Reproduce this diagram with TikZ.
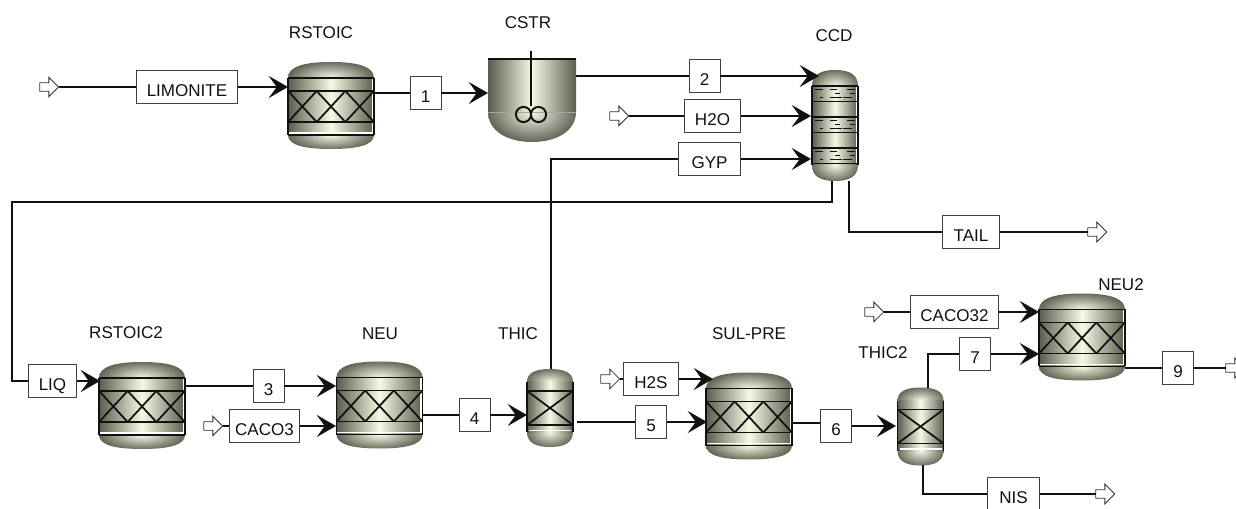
\documentclass[tikz,border=0pt]{standalone}
\usepackage{fontspec}
\setmainfont{Liberation Sans}
\usepackage{tikz}
\usetikzlibrary{arrows.meta,shapes.arrows}
\definecolor{shelldark}{HTML}{5C5C4E}
\definecolor{shelllight}{HTML}{F8F8E6}
\definecolor{ink}{HTML}{111111}
\def\px{0.5669pt}

% vessel shell: half width, dome top, body top, body bottom, dome bottom
\newcommand{\vesselshell}[5]{
  \begin{scope}
    \clip (-#1,#3) .. controls (-#1,{#3+0.72*(#2-#3)}) and ({-0.62*#1},#2) .. (0,#2)
          .. controls ({0.62*#1},#2) and (#1,{#3+0.72*(#2-#3)}) .. (#1,#3) -- cycle;
    \shade[inner color=shelllight, outer color=shelldark] (0,#3) ellipse [x radius=#1+3, y radius=#3-#2+2];
  \end{scope}
  \begin{scope}
    \clip (-#1,#4) .. controls (-#1,{#4+0.72*(#5-#4)}) and ({-0.62*#1},#5) .. (0,#5)
          .. controls ({0.62*#1},#5) and (#1,{#4+0.72*(#5-#4)}) .. (#1,#4) -- cycle;
    \shade[inner color=shelllight, outer color=shelldark] (0,#4) ellipse [x radius=#1+3, y radius=#5-#4+2];
  \end{scope}
  \shade[left color=shelldark, right color=shelldark, middle color=shelllight] (-#1,#3) rectangle (#1,#4);
}

\tikzset{
  every node/.style={font=\fontsize{9.7}{11}\selectfont, text=ink},
  strbox/.style={draw=black!75, fill=white, line width=0.5pt, minimum width=#1*\px, minimum height=33*\px,
                 inner sep=0pt, text height=10.8pt, text depth=0pt},
  strbox/.default=31,
  openarrow/.style={single arrow, draw=black!80, fill=white, line width=0.5pt, minimum height=19*\px,
                    single arrow head extend=3.1pt, inner sep=2.2pt, outer sep=0pt},
  stream/.style={line width=0.9pt, draw=ink},
  flow/.style={-{Stealth[length=11pt,width=12.6pt,inset=4.6pt]}, line width=0.9pt, draw=ink},
  rim/.style={line width=1.1pt, draw=ink},
  packing/.style={line width=1pt, draw=ink},
  reactor/.pic={
    \vesselshell{43}{-43.5}{-27.5}{29.5}{43.5}
    \draw[white, line width=0.7pt] (41.5,-27.5) -- (41.5,27.5) -- (-43,27.5);
    \foreach \k in {0,1,2} {
      \draw[packing] ({-43+\k*28.67},-14.5) -- ({-43+(\k+1)*28.67},16.5);
      \draw[packing] ({-43+(\k+1)*28.67},-14.5) -- ({-43+\k*28.67},16.5);
    }
    \draw[rim] (-43,-27.5) -- (43,-27.5);
    \draw[rim] (-43,-14.5) -- (43,-14.5);
    \draw[rim] (-43,16.5) -- (43,16.5);
    \draw[rim] (-43,29.5) -- (43,29.5);
    \draw[rim] (-43,-27.5) -- (-43,29.5);
    \draw[rim] (43,-27.5) -- (43,29.5);
  },
  thickener/.pic={
    \vesselshell{23}{-39}{-26}{24}{39}
    \draw[white, line width=0.7pt] (-21,22.5) -- (21,22.5);
    \draw[packing] (-23,-17) -- (23,17);
    \draw[packing] (23,-17) -- (-23,17);
    \draw[rim] (-23,-17) -- (23,-17);
    \draw[rim] (-23,17) -- (23,17);
    \draw[rim] (-23,-26) -- (-23,24);
    \draw[rim] (23,-26) -- (23,24);
  },
  column/.pic={
    \vesselshell{23}{-55.5}{-39.5}{39.5}{55.5}
    \draw[white, line width=0.7pt] (21.5,-39.5) -- (21.5,38) -- (-23,38);
    \foreach \b in {-39.5,-8.5,22.5} {
      \draw[rim] (-23,\b) -- (23,\b);
      \draw[rim] (-23,\b+15.5) -- (23,\b+15.5);
      \draw[line width=0.8pt, draw=ink] (-20,\b+3.5) -- (-12,\b+3.5) (-5,\b+3.5) -- (2,\b+3.5) (12,\b+3.5) -- (20,\b+3.5);
      \draw[line width=0.8pt, draw=ink] (0,\b+7.5) -- (5,\b+7.5) (15,\b+7.5) -- (20,\b+7.5);
      \draw[line width=0.8pt, draw=ink] (-15,\b+11.5) -- (-12,\b+11.5) (-5,\b+11.5) -- (7,\b+11.5) (8,\b+11.5) -- (17,\b+11.5);
    }
    \draw[rim] (-23,-39.5) -- (-23,39.5);
    \draw[rim] (23,-39.5) -- (23,39.5);
  },
  stirred/.pic={
    \shade[left color=shelldark, right color=shelldark, middle color=shelllight] (-44,-41) rectangle (44,12);
    \begin{scope}
      \clip (-44,12) .. controls (-44,30) and (-26,42) .. (0,42) .. controls (26,42) and (44,30) .. (44,12) -- cycle;
      \shade[inner color=shelllight, outer color=shelldark] (0,12) ellipse [x radius=47, y radius=32];
    \end{scope}
    \draw[black!35, line width=0.4pt] (-44,12.7) -- (44,12.7);
    \draw[line width=1.3pt, draw=ink] (-44,-41) -- (44,-41);
    \draw[rim] (-1,-48.5) -- (-1,6);
    \draw[rim] (-8.5,14.5) circle [radius=7.6];
    \draw[rim] (6.5,14.5) circle [radius=7.6];
  }
}

\begin{document}
\begin{tikzpicture}[x=0.02cm,y=-0.02cm]
\path[use as bounding box, clip] (0,0) rectangle (1236,509);

% units
\pic at (331,105.5) {reactor};
\pic at (532,100) {stirred};
\pic at (835,125.5) {column};
\pic at (142,405.5) {reactor};
\pic at (379.5,405) {reactor};
\pic at (550,408) {thickener};
\pic at (749,416) {reactor};
\pic at (920.5,426.5) {thickener};
\pic at (1082,337) {reactor};

% unit labels
\node (lbrst) at (321,33) {RSTOIC};
\node (lbcstr) at (528,23) {CSTR};
\node (lbccd) at (834,36) {CCD};
\node (lbrst2) at (126,333) {RSTOIC2};
\node (lbneu) at (380,334) {NEU};
\node (lbthic) at (518,334) {THIC};
\node (lbsul) at (749,334) {SUL-PRE};
\node (lbthic2) at (883,353) {THIC2};
\node (lbneu2) at (1121,285) {NEU2};

% ports
\coordinate (rstin) at (288,87);
\coordinate (rstout) at (374,93);
\coordinate (cstrin) at (488,93);
\coordinate (cstrout) at (576,76);
\coordinate (ccdin1) at (819,76);
\coordinate (ccdin2) at (811,116);
\coordinate (ccdin3) at (811,159);
\coordinate (ccdliq) at (832,181);
\coordinate (ccdtail) at (849,181);
\coordinate (ccdturn) at (12,202);
\coordinate (rst2in) at (100,381);
\coordinate (rst2out) at (184,386);
\coordinate (neuin1) at (336,386);
\coordinate (neuin2) at (336,426);
\coordinate (neuout) at (423,415);
\coordinate (thicin) at (527,415);
\coordinate (thicout) at (577,422);
\coordinate (thictop) at (551,369);
\coordinate (sulin1) at (713,379);
\coordinate (sulin2) at (707,422);
\coordinate (sulout) at (792,423);
\coordinate (thic2in) at (896,426);
\coordinate (thic2top) at (928,388);
\coordinate (thic2bot) at (923,465);
\coordinate (neu2in1) at (1039,312);
\coordinate (neu2in2) at (1039,354);
\coordinate (neu2out) at (1125,368);

% feeds and products
\node[openarrow] (fdlim) at (47,87) {};
\node[openarrow] (fdh2o) at (617,116) {};
\node[openarrow] (prtail) at (1095,232) {};
\node[openarrow] (fdcaco3) at (211,426) {};
\node[openarrow] (fdh2s) at (608,379) {};
\node[openarrow] (fdcaco32) at (872,312) {};
\node[openarrow] (prnine) at (1233,368) {};
\node[openarrow] (prnis) at (1103,494) {};

% stream boxes
\node[strbox=102] (lim) at (187,87) {LIMONITE};
\node[strbox] (s1) at (425.5,93) {1};
\node[strbox] (s2) at (704.5,76) {2};
\node[strbox=57] (h2o) at (712.5,116) {H2O};
\node[strbox=63] (gyp) at (709.5,159) {GYP};
\node[strbox=58] (tail) at (971,232) {TAIL};
\node[strbox=49] (liq) at (52.5,381) {LIQ};
\node[strbox] (s3) at (268.5,386) {3};
\node[strbox=71] (caco3) at (264.5,426) {CACO3};
\node[strbox] (s4) at (474.5,415) {4};
\node[strbox] (s5) at (651,422) {5};
\node[strbox=56] (h2s) at (651,379) {H2S};
\node[strbox] (s6) at (836,426) {6};
\node[strbox] (s7) at (975,354) {7};
\node[strbox=89] (caco32) at (954.5,312) {CACO32};
\node[strbox] (s9) at (1178,368) {9};
\node[strbox=53] (nis) at (1013.5,494) {NIS};

% row 1: limonite to ccd
\draw[stream] (fdlim) -- (lim);   \draw[flow] (lim) -- (rstin);
\draw[stream] (rstout) -- (s1);   \draw[flow] (s1) -- (cstrin);
\draw[stream] (cstrout) -- (s2);  \draw[flow] (s2) -- (ccdin1);
\draw[stream] (fdh2o) -- (h2o);   \draw[flow] (h2o) -- (ccdin2);
\draw[flow] (gyp) -- (ccdin3);
\draw[stream] (thictop) |- (gyp);

% ccd bottoms
\draw[stream] (ccdliq) |- (ccdturn) |- (liq);
\draw[stream] (ccdtail) |- (tail);
\draw[stream] (tail) -- (prtail);

% row 2: liquor to neu2
\draw[flow] (liq) -- (rst2in);
\draw[stream] (rst2out) -- (s3);  \draw[flow] (s3) -- (neuin1);
\draw[stream] (fdcaco3) -- (caco3);  \draw[flow] (caco3) -- (neuin2);
\draw[stream] (neuout) -- (s4);   \draw[flow] (s4) -- (thicin);
\draw[stream] (thicout) -- (s5);  \draw[flow] (s5) -- (sulin2);
\draw[stream] (fdh2s) -- (h2s);   \draw[flow] (h2s) -- (sulin1);
\draw[stream] (sulout) -- (s6.west |- sulout);   \draw[flow] (s6) -- (thic2in);
\draw[stream] (thic2top) |- (s7); \draw[flow] (s7) -- (neu2in2);
\draw[stream] (fdcaco32) -- (caco32);  \draw[flow] (caco32) -- (neu2in1);
\draw[stream] (neu2out) -- (s9);  \draw[stream] (s9) -- (prnine);
\draw[stream] (thic2bot) |- (nis);  \draw[stream] (nis) -- (prnis);

\end{tikzpicture}
\end{document}
